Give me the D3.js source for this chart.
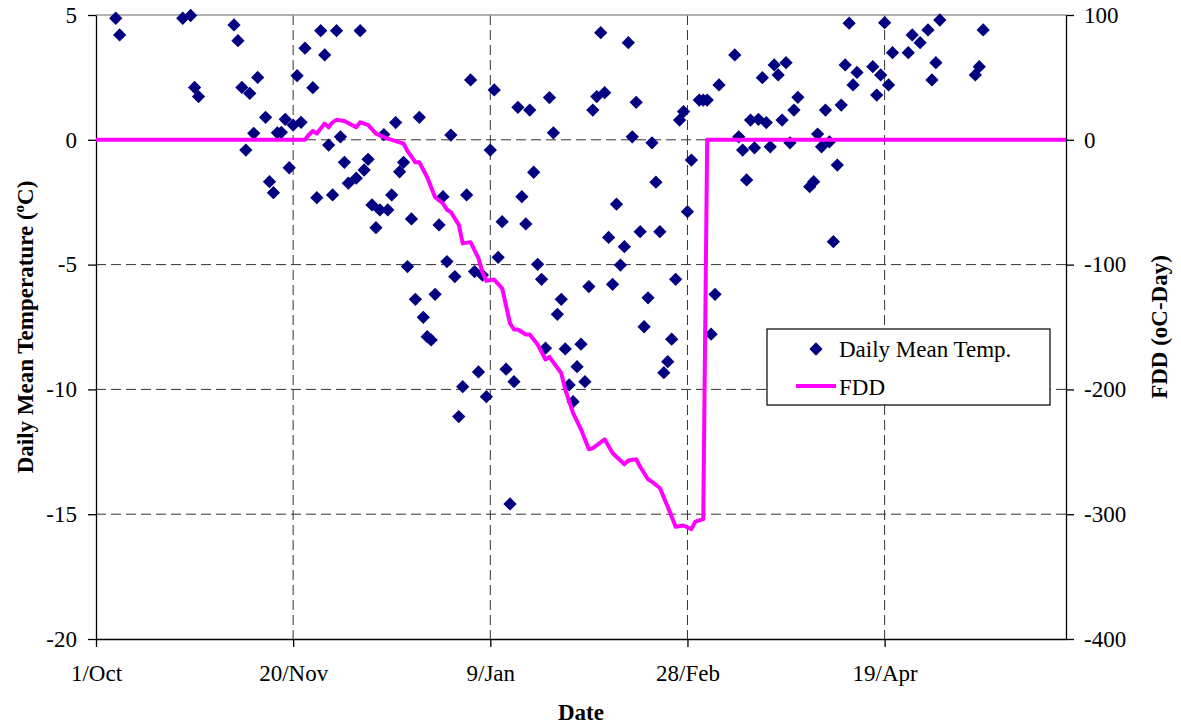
<!DOCTYPE html>
<meta charset="utf-8">
<style>
body { margin: 0; background: #fff; }
svg { background: #fff; }
svg text { font-family: "Liberation Serif", "Times New Roman", serif; fill: #000; }
.axis text { font-size: 23px; }
.axis path, .axis line { stroke: #000; stroke-width: 1.3; }
.grid line { stroke: #333; stroke-width: 1; stroke-dasharray: 10,5; }
.title { font-size: 23px; font-weight: bold; }
.legend text { font-size: 23px; }
</style>
<body>
<svg width="1181" height="727"></svg>
<script src="https://d3js.org/d3.v7.min.js"></script>
<script>

// days since 1/Oct
var tempDays = [5, 6, 22, 24, 25, 26, 35, 36, 37, 38, 39, 40, 41, 43, 44, 45, 46, 47, 48, 49,
  50, 51, 52, 53, 55, 56, 57, 58, 59, 60, 61, 62, 63, 64, 66, 67, 68, 69, 70, 71,
  72, 73, 74, 75, 76, 77, 78, 79, 80, 81, 82, 83, 84, 85, 86, 87, 88, 89, 90, 91,
  92, 93, 94, 95, 96, 97, 98, 99, 100, 101, 102, 103, 104, 105, 106, 107, 108, 109, 110, 111,
  112, 113, 114, 115, 116, 117, 118, 119, 120, 121, 122, 123, 124, 125, 126, 127, 128, 129, 130, 131,
  132, 133, 134, 135, 136, 137, 138, 139, 140, 141, 142, 143, 144, 145, 146, 147, 148, 149, 150, 151,
  153, 154, 155, 156, 157, 158, 162, 163, 164, 165, 166, 167, 168, 169, 170, 171, 172, 173, 174, 175,
  176, 177, 178, 181, 182, 183, 184, 185, 186, 187, 188, 189, 190, 191, 192, 193, 197, 198, 199, 200,
  201, 202, 206, 207, 209, 211, 212, 213, 214, 223, 224, 225];
var tempValues = [4.87, 4.2, 4.87, 4.98, 2.1, 1.73, 4.6, 3.97, 2.1, -0.41, 1.86, 0.26, 2.5, 0.9, -1.68, -2.12, 0.28, 0.3, 0.82, -1.12,
  0.59, 2.57, 0.7, 3.67, 2.09, -2.32, 4.37, 3.4, -0.21, -2.21, 4.37, 0.12, -0.9, -1.74, -1.54, 4.37, -1.21, -0.78, -2.61, -3.52,
  -2.81, 0.21, -2.81, -2.21, 0.69, -1.28, -0.9, -5.08, -3.17, -6.39, 0.9, -7.11, -7.89, -8.02, -6.19, -3.41, -2.28, -4.88, 0.19, -5.48,
  -11.09, -9.89, -2.21, 2.4, -5.28, -9.3, -5.42, -10.29, -0.41, 2.0, -4.71, -3.28, -9.19, -14.59, -9.69, 1.3, -2.28, -3.37, 1.19, -1.3,
  -4.99, -5.59, -8.35, 1.69, 0.28, -6.99, -6.39, -8.38, -9.82, -10.49, -9.09, -8.19, -9.69, -5.88, 1.19, 1.73, 4.29, 1.89, -3.91, -5.79,
  -2.58, -5.02, -4.28, 3.89, 0.12, 1.5, -3.68, -7.49, -6.33, -0.12, -1.7, -3.68, -9.33, -8.89, -7.99, -5.59, 0.79, 1.13, -2.88, -0.81,
  1.59, 1.59, 1.59, -7.79, -6.19, 2.2, 3.4, 0.12, -0.41, -1.61, 0.79, -0.32, 0.82, 2.49, 0.69, -0.28, 3.0, 2.6, 0.79, 3.09,
  -0.12, 1.19, 1.7, -1.88, -1.68, 0.23, -0.28, 1.19, -0.08, -4.08, -1.01, 1.39, 3.0, 4.67, 2.2, 2.7, 2.93, 1.79, 2.6, 4.69,
  2.2, 3.49, 3.49, 4.2, 3.89, 4.4, 2.4, 3.09, 4.8, 2.6, 2.93, 4.4];

var fddDays = [0, 53, 54, 55, 56, 58, 59, 60, 61, 63, 66, 67, 69, 71, 74, 76, 78, 79, 81, 82,
  84, 86, 88, 89, 90, 92, 93, 95, 97, 98, 99, 101, 103, 105, 106, 107, 109, 110, 112, 114,
  115, 118, 119, 121, 123, 125, 126, 129, 131, 134, 135, 137, 138, 140, 141, 143, 145, 147, 149, 151,
  152, 154, 155, 246];
var fddValues = [0, 0, 4, 7, 5, 13, 10, 14, 16, 15, 10, 14, 12, 5, 1, -1, -3, -9, -18, -18,
  -30, -46, -51, -56, -58, -68, -83, -82, -95, -106, -113, -112, -119, -147, -152, -152, -156, -156, -164, -176,
  -174, -187, -200, -219, -232, -248, -247, -240, -251, -260, -257, -256, -262, -272, -274, -279, -294, -310, -309, -312,
  -306, -304, 0, 0];

var dateTicks = [0, 50, 100, 150, 200];
var dateLabels = ["1/Oct", "20/Nov", "9/Jan", "28/Feb", "19/Apr"];
var tempTicks = [-20, -15, -10, -5, 0, 5];
var fddTicks = [-400, -300, -200, -100, 0, 100];

var svg = d3.select("svg"),
    margin = {top: 15, right: 115, bottom: 88, left: 96},
    width = +svg.attr("width") - margin.left - margin.right,
    height = +svg.attr("height") - margin.top - margin.bottom;

var x = d3.scaleLinear().domain([0, 246]).range([0, width]),
    yT = d3.scaleLinear().domain([-20, 5]).range([height, 0]),
    yF = d3.scaleLinear().domain([-400, 100]).range([height, 0]);

var g = svg.append("g")
    .attr("transform", "translate(" + margin.left + "," + margin.top + ")");

// gridlines
var grid = g.append("g").attr("class", "grid");
grid.selectAll(".h").data([-15, -10, -5, 0]).enter().append("line")
    .attr("x1", 0).attr("x2", width)
    .attr("y1", function(d) { return yT(d); })
    .attr("y2", function(d) { return yT(d); });
grid.selectAll(".v").data(dateTicks.slice(1)).enter().append("line")
    .attr("y1", 0).attr("y2", height)
    .attr("x1", function(d) { return x(d); })
    .attr("x2", function(d) { return x(d); });

// top border
g.append("line")
    .attr("x1", 0).attr("x2", width).attr("y1", 0).attr("y2", 0)
    .attr("stroke", "#999").attr("stroke-width", 1.5);

// axes
g.append("g")
    .attr("class", "axis")
    .call(d3.axisLeft(yT).tickValues(tempTicks).tickSize(8).tickSizeOuter(0).tickPadding(11)
      .tickFormat(function(d) { return String(d); }));

g.append("g")
    .attr("class", "axis")
    .attr("transform", "translate(" + width + ",0)")
    .call(d3.axisRight(yF).tickValues(fddTicks).tickSize(8).tickSizeOuter(0).tickPadding(10)
      .tickFormat(function(d) { return String(d); }));

g.append("g")
    .attr("class", "axis")
    .attr("transform", "translate(0," + height + ")")
    .call(d3.axisBottom(x).tickValues(dateTicks).tickSize(8).tickSizeOuter(0)
      .tickFormat(function(d, i) { return dateLabels[i]; }))
  .selectAll("text")
    .attr("dy", null)
    .attr("y", 42);

g.selectAll(".axis").attr("font-size", null).attr("font-family", null);

// daily mean temperature diamonds
var diamond = d3.symbol().type(d3.symbolSquare).size(88);
g.append("g").selectAll("path")
    .data(d3.zip(tempDays, tempValues))
  .enter().append("path")
    .attr("d", diamond)
    .attr("fill", "#000080")
    .attr("transform", function(d) { return "translate(" + x(d[0]) + "," + yT(d[1]) + ") rotate(45)"; });

// FDD line
var line = d3.line()
    .x(function(d) { return x(d[0]); })
    .y(function(d) { return yF(d[1]); });

g.append("path")
    .datum(d3.zip(fddDays, fddValues))
    .attr("fill", "none")
    .attr("stroke", "#ff00ff")
    .attr("stroke-width", 4)
    .attr("stroke-linejoin", "round")
    .attr("d", line);

// axis titles
svg.append("text")
    .attr("class", "title")
    .attr("x", margin.left + width / 2)
    .attr("y", 720)
    .attr("text-anchor", "middle")
    .text("Date");

var lt = svg.append("text")
    .attr("class", "title")
    .attr("transform", "translate(33," + (margin.top + height / 2) + ") rotate(-90)")
    .attr("text-anchor", "middle");
lt.append("tspan").text("Daily Mean Temperature (");
lt.append("tspan").attr("dy", -9).style("font-size", "15px").text("o");
lt.append("tspan").attr("dy", 9).text("C)");

svg.append("text")
    .attr("class", "title")
    .attr("transform", "translate(1167," + (margin.top + height / 2) + ") rotate(-90)")
    .attr("text-anchor", "middle")
    .text("FDD (oC-Day)");

// legend
var legend = svg.append("g").attr("class", "legend");
legend.append("rect")
    .attr("x", 767).attr("y", 329).attr("width", 283).attr("height", 76)
    .attr("fill", "#fff").attr("stroke", "#000").attr("stroke-width", 1.2);
legend.append("path")
    .attr("d", diamond)
    .attr("fill", "#000080")
    .attr("transform", "translate(816,349) rotate(45)");
legend.append("text").attr("x", 839).attr("y", 357).text("Daily Mean Temp.");
legend.append("line")
    .attr("x1", 796).attr("x2", 836).attr("y1", 386).attr("y2", 386)
    .attr("stroke", "#ff00ff").attr("stroke-width", 4);
legend.append("text").attr("x", 839).attr("y", 395).text("FDD");

</script>
